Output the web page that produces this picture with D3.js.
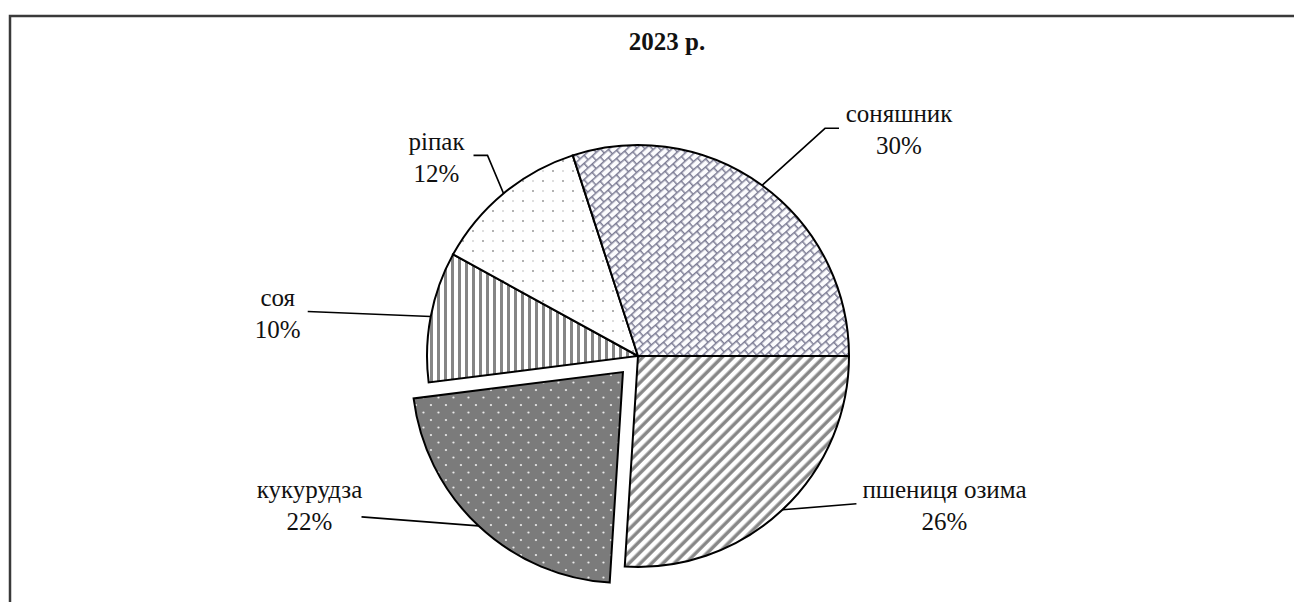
<!DOCTYPE html>
<html>
<head>
<meta charset="utf-8">
<script src="https://cdn.jsdelivr.net/npm/d3@7"></script>
<style>
  body { margin: 0; background: #fff; }
</style>
</head>
<body>
<div id="chart-area"></div>
<script>
// data
var title = "2023 р.";
var categories = ["пшениця озима", "кукурудза", "соя", "ріпак", "соняшник"];
var shares = [26, 22, 10, 12, 30];

// label layout: elbow points and text anchor relative to the slice's anchor on the arc
var labelLayout = [
  { elbow: [74, -6], end: [74, -6], tx: 162, ty: -12 },    // пшениця озима
  { elbow: [-117, -9], end: [-117, -9], tx: -169, ty: -28 }, // кукурудза
  { elbow: [-123, -5], end: [-123, -5], tx: -153, ty: -10 }, // соя
  { elbow: [-16, -38], end: [-30, -38], tx: -67, ty: -43 },  // ріпак
  { elbow: [63, -57], end: [77, -57], tx: 137, ty: -63 }     // соняшник
];

var width = 1294, height = 602;
var cx = 638, cy = 356, radius = 211;
var explode = 22;
var serif = "'Liberation Serif', 'Times New Roman', 'DejaVu Serif', serif";

var svg = d3.select("#chart-area").append("svg")
    .attr("width", width)
    .attr("height", height)
    .attr("font-family", serif);

var defs = svg.append("defs");

// соняшник - diagonal bricks
var pBrick = defs.append("pattern")
    .attr("id", "brick")
    .attr("patternUnits", "userSpaceOnUse")
    .attr("width", 11).attr("height", 12)
    .attr("patternTransform", "rotate(-42)");
pBrick.append("rect").attr("width", 11).attr("height", 12).attr("fill", "#fbfbfd");
pBrick.append("path")
    .attr("d", "M0,0.75H11M0,6.75H11M0.75,0V6.75M6.25,6.75V12")
    .attr("stroke", "#7c7c94").attr("stroke-width", 1.5).attr("fill", "none");

// пшениця озима - wide diagonal stripes
var pDiag = defs.append("pattern")
    .attr("id", "diag")
    .attr("patternUnits", "userSpaceOnUse")
    .attr("width", 8).attr("height", 8)
    .attr("patternTransform", "rotate(-45)");
pDiag.append("rect").attr("width", 8).attr("height", 8).attr("fill", "#fff");
pDiag.append("rect").attr("y", 2.5).attr("width", 8).attr("height", 3.4).attr("fill", "#868686");

// кукурудза - dark gray with white dots
var pDark = defs.append("pattern")
    .attr("id", "darkdots")
    .attr("patternUnits", "userSpaceOnUse")
    .attr("width", 15).attr("height", 15);
pDark.append("rect").attr("width", 15).attr("height", 15).attr("fill", "#7b7b7b");
pDark.append("circle").attr("cx", 3).attr("cy", 3).attr("r", 1.1).attr("fill", "#f2f2f2");
pDark.append("circle").attr("cx", 10.5).attr("cy", 10.5).attr("r", 1.1).attr("fill", "#f2f2f2");

// соя - vertical stripes
var pVert = defs.append("pattern")
    .attr("id", "vert")
    .attr("patternUnits", "userSpaceOnUse")
    .attr("width", 7).attr("height", 7);
pVert.append("rect").attr("width", 7).attr("height", 7).attr("fill", "#fff");
pVert.append("rect").attr("x", 2).attr("width", 3).attr("height", 7).attr("fill", "#858585");

// ріпак - sparse gray dots
var pDots = defs.append("pattern")
    .attr("id", "dots")
    .attr("patternUnits", "userSpaceOnUse")
    .attr("width", 20).attr("height", 20);
pDots.append("rect").attr("width", 20).attr("height", 20).attr("fill", "#fff");
pDots.append("circle").attr("cx", 5).attr("cy", 5).attr("r", 1).attr("fill", "#9a9a9a");
pDots.append("circle").attr("cx", 15).attr("cy", 15).attr("r", 1).attr("fill", "#9a9a9a");
pDots.append("circle").attr("cx", 15).attr("cy", 5).attr("r", 0.8).attr("fill", "#b5b5b5");
pDots.append("circle").attr("cx", 5).attr("cy", 15).attr("r", 0.8).attr("fill", "#b5b5b5");

var fills = ["url(#diag)", "url(#darkdots)", "url(#vert)", "url(#dots)", "url(#brick)"];

// frame
svg.append("path")
    .attr("d", "M10," + height + "V16H" + width)
    .attr("fill", "none")
    .attr("stroke", "#3a3a3a")
    .attr("stroke-width", 2.5);

svg.append("text")
    .attr("x", 667)
    .attr("y", 50)
    .attr("text-anchor", "middle")
    .attr("font-weight", "bold")
    .attr("font-size", "25px")
    .attr("fill", "#111")
    .text(title);

var data = categories.map(function(c, i) {
  return { name: c, value: shares[i], fill: fills[i], layout: labelLayout[i], exploded: c == "кукурудза" };
});

var pie = d3.pie()
    .sort(null)
    .value(function(d) { return d.value; })
    .startAngle(Math.PI / 2)
    .endAngle(Math.PI / 2 + 2 * Math.PI);

var arc = d3.arc().innerRadius(0).outerRadius(radius);

var arcs = pie(data);

function offset(d) {
  if (!d.data.exploded) return [0, 0];
  var a = (d.startAngle + d.endAngle) / 2;
  return [Math.sin(a) * explode, -Math.cos(a) * explode];
}

var g = svg.append("g").attr("transform", "translate(" + cx + "," + cy + ")");

var slices = g.selectAll("g.slice")
    .data(arcs)
    .enter()
    .append("g")
    .attr("class", "slice")
    .attr("transform", function(d) {
      var o = offset(d);
      return "translate(" + o[0] + "," + o[1] + ")";
    });

slices.append("path")
    .attr("d", arc)
    .attr("fill", function(d) { return d.data.fill; })
    .attr("stroke", "#000")
    .attr("stroke-width", 2);

// leader lines and labels
slices.each(function(d) {
  var sel = d3.select(this);
  var a = (d.startAngle + d.endAngle) / 2;
  var p = [Math.sin(a) * radius, -Math.cos(a) * radius];
  var L = d.data.layout;
  var pts = [p, [p[0] + L.elbow[0], p[1] + L.elbow[1]], [p[0] + L.end[0], p[1] + L.end[1]]];
  sel.append("path")
      .attr("d", d3.line()(pts))
      .attr("fill", "none")
      .attr("stroke", "#000")
      .attr("stroke-width", 1.6);
  var t = sel.append("text")
      .attr("text-anchor", "middle")
      .attr("font-size", "25px")
      .attr("fill", "#111")
      .attr("x", p[0] + L.tx)
      .attr("y", p[1] + L.ty);
  t.append("tspan").attr("x", p[0] + L.tx).text(d.data.name);
  t.append("tspan").attr("x", p[0] + L.tx).attr("dy", 32).text(d.data.value + "%");
});
</script>
</body>
</html>
